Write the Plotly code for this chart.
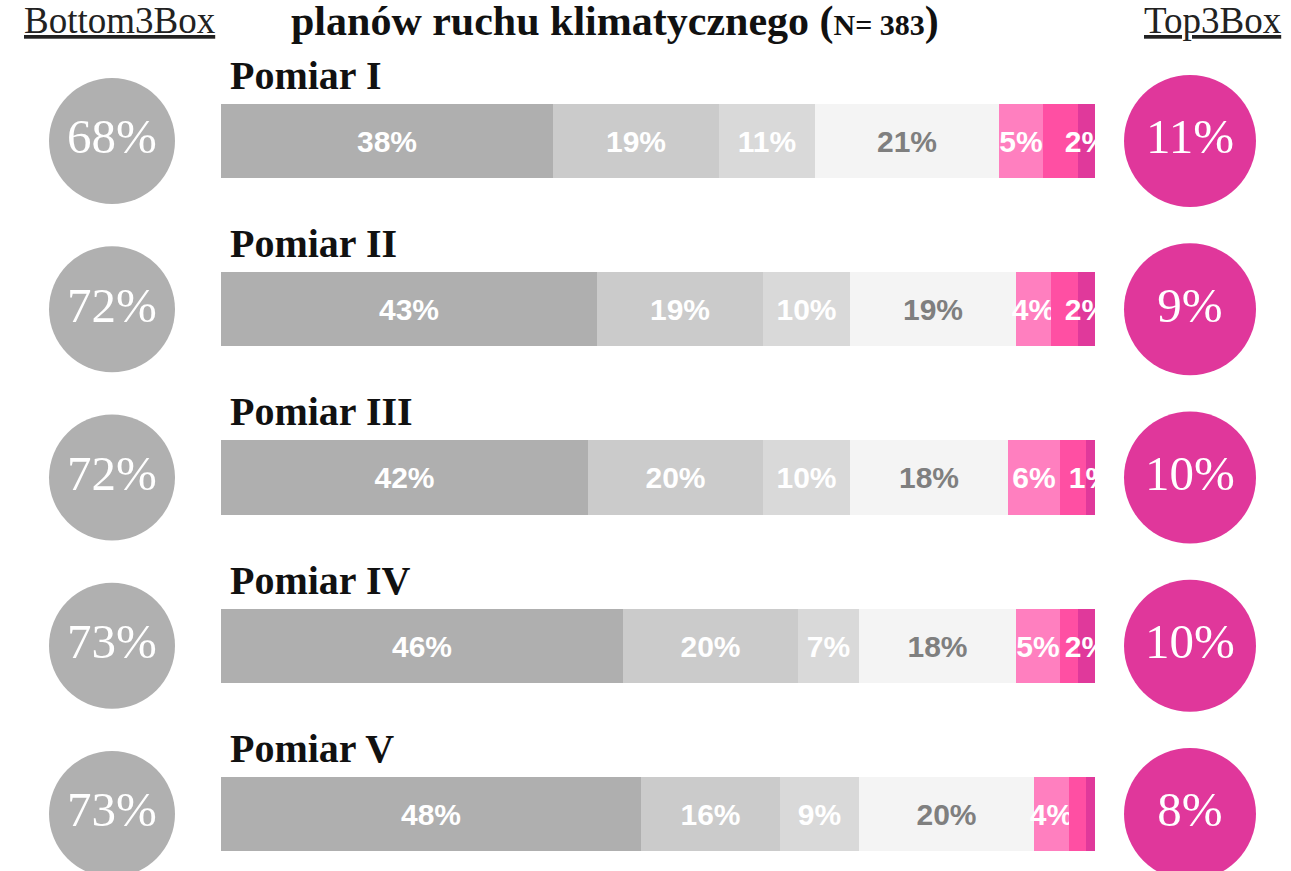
import plotly.graph_objects as go

# ---- data ----
categories = ["Pomiar I", "Pomiar II", "Pomiar III", "Pomiar IV", "Pomiar V"]
seg1 = [38, 43, 42, 46, 48]
seg2 = [19, 19, 20, 20, 16]
seg3 = [11, 10, 10, 7, 9]
seg4 = [21, 19, 18, 18, 20]
seg5 = [5, 4, 6, 5, 4]
seg6 = [4, 3, 3, 2, 2]
seg7 = [2, 2, 1, 2, 1]
bottom3box = [68, 72, 72, 73, 73]
top3box = [11, 9, 10, 10, 8]
# which labels are visible inside the bars
show6 = [False, False, False, False, False]
show7 = [True, True, True, True, False]

segments = [seg1, seg2, seg3, seg4, seg5, seg6, seg7]
seg_colors = ["#afafaf", "#cbcbcb", "#d9d9d9", "#f4f4f4", "#ff7fbf", "#ff4fa3", "#e0399b"]
seg_text_colors = ["white", "white", "white", "#7f7f7f", "white", "white", "white"]
seg_show = [[True] * 5] * 5 + [show6, show7]

W, H = 1291, 871
BAR_X0, BAR_X1 = 221, 1095
ROW_PX = 168.25
ROW0_PX = 141

ypos = list(range(len(categories)))

fig = go.Figure()
for vals, col, tcol, show in zip(segments, seg_colors, seg_text_colors, seg_show):
    txt = [f"<b>{v}%</b>" if s else "" for v, s in zip(vals, show)]
    fig.add_trace(go.Bar(
        x=vals, y=ypos, orientation="h", width=0.44,
        marker=dict(color=col, line=dict(width=0)),
        text=txt, texttemplate="%{text}", textposition="inside",
        insidetextanchor="middle", textangle=0,
        textfont=dict(family="Liberation Sans, Arial", size=30, color=tcol),
        hoverinfo="skip", showlegend=False,
    ))

fig.add_trace(go.Scatter(
    x=[112] * 5, y=ypos, xaxis="x2", yaxis="y", mode="markers+text",
    marker=dict(size=126, color="#b0b0b0", line=dict(width=0)),
    text=[f"{v}%" for v in bottom3box], textposition="middle center",
    textfont=dict(family="Liberation Serif", size=49, color="white"),
    cliponaxis=False, showlegend=False, hoverinfo="skip",
))
fig.add_trace(go.Scatter(
    x=[1190] * 5, y=ypos, xaxis="x2", yaxis="y", mode="markers+text",
    marker=dict(size=132, color="#e0379b", line=dict(width=0)),
    text=[f"{v}%" for v in top3box], textposition="middle center",
    textfont=dict(family="Liberation Serif", size=49, color="white"),
    cliponaxis=False, showlegend=False, hoverinfo="skip",
))

annotations = []
for i, c in enumerate(categories):
    annotations.append(dict(
        x=0.8, y=i - 0.39, xref="x", yref="y", text=f"<b>{c}</b>",
        showarrow=False, xanchor="left", yanchor="middle",
        font=dict(family="Liberation Serif", size=40, color="#111111"),
    ))

def pxx(p):
    return p / W

def pxy(p):
    return 1 - p / H

annotations.append(dict(x=pxx(120), y=pxy(21), xref="paper", yref="paper",
                        text="<u>Bottom3Box</u>", showarrow=False,
                        xanchor="center", yanchor="middle",
                        font=dict(family="Liberation Serif", size=37, color="#222222")))
annotations.append(dict(x=pxx(1213), y=pxy(21), xref="paper", yref="paper",
                        text="<u>Top3Box</u>", showarrow=False,
                        xanchor="center", yanchor="middle",
                        font=dict(family="Liberation Serif", size=37, color="#222222")))
annotations.append(dict(x=pxx(615), y=pxy(22), xref="paper", yref="paper",
                        text="<b>planów ruchu klimatycznego (<span style='font-size:30px'>N= 383</span>)</b>",
                        showarrow=False, xanchor="center", yanchor="middle",
                        font=dict(family="Liberation Serif", size=42, color="#111111")))

y_top = -(ROW0_PX / ROW_PX)
y_bot = (H - ROW0_PX) / ROW_PX

fig.update_layout(
    width=W, height=H, barmode="stack",
    margin=dict(l=0, r=0, t=0, b=0),
    plot_bgcolor="rgba(0,0,0,0)", paper_bgcolor="white",
    xaxis=dict(domain=[BAR_X0 / W, BAR_X1 / W], range=[0, 100], showgrid=False,
               zeroline=False, showticklabels=False, fixedrange=True, anchor="y"),
    xaxis2=dict(domain=[0, 1], range=[0, W], anchor="y", showgrid=False,
                zeroline=False, showticklabels=False, fixedrange=True, visible=False),
    yaxis=dict(domain=[0, 1], range=[y_bot, y_top], showgrid=False, zeroline=False,
               showticklabels=False, fixedrange=True),
    uniformtext=dict(minsize=30, mode="show"),
    annotations=annotations,
    bargap=0,
)

fig.write_html("out.html", config={"displayModeBar": False},
               post_script="document.body.style.margin='0';document.body.style.overflow='hidden';")
